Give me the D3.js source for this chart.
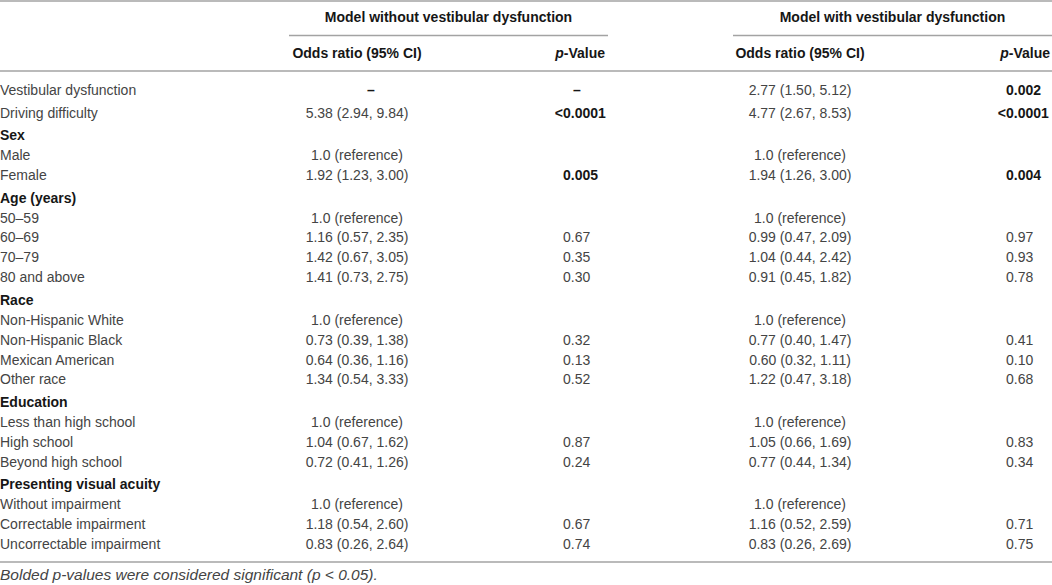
<!DOCTYPE html>
<html><head><meta charset="utf-8">
<script src="https://cdn.jsdelivr.net/npm/d3@7/dist/d3.min.js"></script>
<style>
html,body{margin:0;padding:0;background:#fff;}
svg{display:block;}
text{font-family:"Liberation Sans",Arial,Helvetica,sans-serif;font-size:14px;}
</style></head>
<body>
<svg id="t" width="1052" height="585"></svg>
<script>
const groupTitles = ["Model without vestibular dysfunction", "Model with vestibular dysfunction"];
const columnTitles = ["Odds ratio (95% CI)", "p-Value", "Odds ratio (95% CI)", "p-Value"];
const rowLabels = ["Vestibular dysfunction","Driving difficulty","Sex","Male","Female","Age (years)","50–59","60–69","70–79","80 and above","Race","Non-Hispanic White","Non-Hispanic Black","Mexican American","Other race","Education","Less than high school","High school","Beyond high school","Presenting visual acuity","Without impairment","Correctable impairment","Uncorrectable impairment"];
const isHeader = [0,0,1,0,0,1,0,0,0,0,1,0,0,0,0,1,0,0,0,1,0,0,0];
const orWithout = ["–","5.38 (2.94, 9.84)","","1.0 (reference)","1.92 (1.23, 3.00)","","1.0 (reference)","1.16 (0.57, 2.35)","1.42 (0.67, 3.05)","1.41 (0.73, 2.75)","","1.0 (reference)","0.73 (0.39, 1.38)","0.64 (0.36, 1.16)","1.34 (0.54, 3.33)","","1.0 (reference)","1.04 (0.67, 1.62)","0.72 (0.41, 1.26)","","1.0 (reference)","1.18 (0.54, 2.60)","0.83 (0.26, 2.64)"];
const pWithout = ["–","<0.0001","","","0.005","","","0.67","0.35","0.30","","","0.32","0.13","0.52","","","0.87","0.24","","","0.67","0.74"];
const orWith = ["2.77 (1.50, 5.12)","4.77 (2.67, 8.53)","","1.0 (reference)","1.94 (1.26, 3.00)","","1.0 (reference)","0.99 (0.47, 2.09)","1.04 (0.44, 2.42)","0.91 (0.45, 1.82)","","1.0 (reference)","0.77 (0.40, 1.47)","0.60 (0.32, 1.11)","1.22 (0.47, 3.18)","","1.0 (reference)","1.05 (0.66, 1.69)","0.77 (0.44, 1.34)","","1.0 (reference)","1.16 (0.52, 2.59)","0.83 (0.26, 2.69)"];
const pWith = ["0.002","<0.0001","","","0.004","","","0.97","0.93","0.78","","","0.41","0.10","0.68","","","0.83","0.34","","","0.71","0.75"];
const boldWithout = [1,1,0,0,1,0,0,0,0,0,0,0,0,0,0,0,0,0,0,0,0,0,0];
const boldWith = [1,1,0,0,1,0,0,0,0,0,0,0,0,0,0,0,0,0,0,0,0,0,0];
const footnote = "Bolded p-values were considered significant (p < 0.05).";

const svg = d3.select("#t");
const W = 1052;
const bodyColor = "#444444", boldColor = "#161616", lineColor = "#a3a3a3";

// row positions: uniform step plus small extra gap before section headers
const step = 19.9, extra = 2.7;
const rowY = [];
let y = 90;
rowLabels.forEach((d,i)=>{
  if(i>0){ y += step + ((isHeader[i] || i===1) ? extra : 0); }
  rowY.push(y);
});
const yScale = d3.scaleOrdinal().domain(d3.range(rowLabels.length)).range(rowY);

// column layout
const col = {
  label: 0,
  or1: 357, p1: 563, p1dash: 577, or1dash: 371,
  or2: 800, p2: 1006,
  g1: [289, 608], g2: [733, 1052]
};

// lines
const lines = [
  {x1:0, x2:W, y:1},
  {x1:col.g1[0], x2:col.g1[1], y:35.5},
  {x1:col.g2[0], x2:col.g2[1], y:35.5},
  {x1:0, x2:W, y:71},
  {x1:0, x2:W, y:562}
];
svg.selectAll("line.rule").data(lines).join("line").attr("class","rule")
  .attr("x1",d=>d.x1).attr("x2",d=>d.x2).attr("y1",d=>d.y).attr("y2",d=>d.y)
  .attr("stroke",lineColor).attr("stroke-width",1.4);

// group titles
svg.selectAll("text.group").data(groupTitles).join("text").attr("class","group")
  .attr("x",(d,i)=> i===0 ? (col.g1[0]+col.g1[1])/2 : (col.g2[0]+col.g2[1])/2)
  .attr("y",22).attr("text-anchor","middle").attr("font-weight","bold").attr("fill",boldColor)
  .text(d=>d);

// column titles
const colTitlePos = [{x:col.or1,a:"middle"},{x:605,a:"end"},{x:col.or2,a:"middle"},{x:1050,a:"end"}];
svg.selectAll("text.coltitle").data(columnTitles).join("text").attr("class","coltitle")
  .attr("x",(d,i)=>colTitlePos[i].x).attr("y",58).attr("text-anchor",(d,i)=>colTitlePos[i].a)
  .attr("font-weight","bold").attr("fill",boldColor)
  .each(function(d){
    const t = d3.select(this);
    if(d.startsWith("p-")){
      t.append("tspan").attr("font-style","italic").text("p");
      t.append("tspan").text(d.slice(1));
    } else t.text(d);
  });

// row labels
svg.selectAll("text.rowlabel").data(rowLabels).join("text").attr("class","rowlabel")
  .attr("x",col.label).attr("y",(d,i)=>yScale(i)+5)
  .attr("font-weight",(d,i)=>isHeader[i]?"bold":"normal")
  .attr("fill",(d,i)=>isHeader[i]?boldColor:bodyColor)
  .text(d=>d);

// odds ratio columns
function orColumn(vals, x, dashX, cls){
  svg.selectAll("text."+cls).data(vals).join("text").attr("class",cls)
    .attr("x",d=> d==="–" ? dashX : x).attr("y",(d,i)=>yScale(i)+5)
    .attr("text-anchor","middle")
    .attr("font-weight",d=>d==="–"?"bold":"normal")
    .attr("fill",d=>d==="–"?boldColor:bodyColor)
    .text(d=>d);
}
orColumn(orWithout, col.or1, col.or1dash, "or1");
orColumn(orWith, col.or2, col.or2, "or2");

// p-value columns: numbers aligned at their first digit, "<" hangs left
function pColumn(vals, bold, x, dashX, cls){
  const g = svg.selectAll("text."+cls).data(vals).join("text").attr("class",cls)
    .attr("y",(d,i)=>yScale(i)+5)
    .attr("font-weight",(d,i)=>bold[i]?"bold":"normal")
    .attr("fill",(d,i)=>bold[i]?boldColor:bodyColor)
    .attr("text-anchor",d=>d==="–"?"middle":"start")
    .attr("x",d=>d==="–"?dashX:x)
    .text(d=>d);
  g.each(function(d){
    if(d.startsWith("<")){
      const t = d3.select(this);
      t.text(d.slice(1));
      const w = t.node().getComputedTextLength();
      t.attr("text-anchor","end").attr("x", x + w).text(d);
    }
  });
}
pColumn(pWithout, boldWithout, col.p1, col.p1dash, "p1");
pColumn(pWith, boldWith, col.p2, col.p2, "p2");

// footnote
svg.append("text").attr("x",0).attr("y",580).attr("font-style","italic").attr("fill",bodyColor)
  .style("font-size","15.5px")
  .text(footnote);
</script>
</body></html>
